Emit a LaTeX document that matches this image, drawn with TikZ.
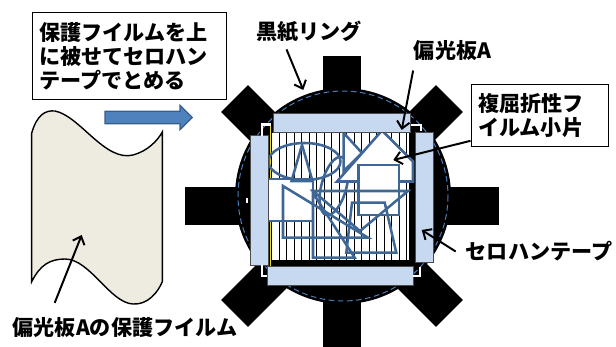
\documentclass[tikz,border=0pt]{standalone}
\usepackage{fontspec}
\usepackage{xcolor}
\usepackage{tikz}
\usetikzlibrary{arrows.meta,positioning}
\newfontfamily\jpfont{Noto Sans CJK JP}
\definecolor{filmbeige}{HTML}{EEECE1}
\definecolor{tapeblue}{HTML}{C6D9F1}
\definecolor{pieceblue}{HTML}{3F6796}
\definecolor{ringdash}{HTML}{4A7EBB}
\definecolor{arrowblue}{HTML}{4F81BD}
\definecolor{arrowedge}{HTML}{385D8A}

\tikzset{
  lbl/.style={font=\jpfont\bfseries\fontsize{15}{17}\selectfont, inner sep=0pt},
  notebox/.style={lbl, draw, fill=white, line width=0.8pt, align=left, inner xsep=5pt},
  pointer/.style={line width=1.4pt, -{Straight Barb[length=5pt,width=9pt]}},
  piece/.style={draw=pieceblue, line width=1.8pt},
  tape/.style={fill=tapeblue, draw=black!70, line width=0.4pt},
  cornermark/.style={draw=black!55, double=white, double distance=1.5pt, line width=0.3pt}
}

\begin{document}
\begin{tikzpicture}[x=0.025cm, y=-0.025cm]
\useasboundingbox (0,0) rectangle (616,347);
\clip (0,0) rectangle (616,347);

% protective film and the blue arrow
\draw[fill=filmbeige, line width=1pt] (31.7,281.7) .. controls (40,265) and (50,259) .. (65,259)
  .. controls (90,259) and (110,303) .. (133,304) .. controls (148,305) and (158,292) .. (162.3,281.7)
  -- (162.3,132) .. controls (158,140) and (148,151) .. (133,155)
  .. controls (105,162) and (80,116) .. (55,111) .. controls (45,110) and (37,115) .. (31.7,133) -- cycle;
\draw[fill=arrowblue, draw=arrowedge, line width=0.8pt] (105,111.3) -- (180,111.3) -- (180,105.3)
  -- (192.3,117.5) -- (180,129.7) -- (180,123.7) -- (105,123.7) -- cycle;

% black paper ring
\foreach \ang/\len in {0/157,45/152,90/150,135/152}
  \fill[rotate around={\ang:(342,206)}] (342-\len,187) rectangle (342+\len,225);
\fill (343,196) circle [radius=108];
\draw[ringdash, line width=0.7pt, dash pattern=on 4pt off 2.5pt] (343,196) circle [radius=105];
\fill[white] (245.5,197.5) rectangle (248,202.5);

% polarizer A
\fill (266,130) rectangle (415.5,265);
\fill[white] (271.5,133) rectangle (408.5,260);
\foreach \i in {0,...,17}
  \draw[line width=0.6pt] (279.3+7.5*\i,133) -- (279.3+7.5*\i,260);
\draw[yellow!90!black, line width=0.8pt] (270.7,125) -- (270.7,266);

% film pieces
\draw[piece, fill=white] (268,179) rectangle (313,221);
\draw[piece] (304.5,161.5) ellipse [x radius=36, y radius=18.5];
\draw[piece] (302,145) -- (291.5,181) -- (312.5,181) -- cycle;
\draw[piece] (283,186) -- (283,237.7) -- (368,237.7) -- cycle;
\draw[piece, rotate around={-15:(334,186)}] (334,186) ellipse [x radius=12.5, y radius=30];
\draw[piece, fill=white] (343.7,133) -- (362,153) -- (343.7,171) -- cycle;
\draw[piece, fill=white] (337,181.5) -- (382,130.5) -- (413,161.5) -- (413,181.5) -- cycle;
\draw[piece, fill=white] (358.5,165) rectangle (399,215);
\draw[piece] (313,191) -- (408,191) -- (360,231) -- cycle;
\draw[piece] (313,193) -- (313,257.7) -- (354.7,257.7) -- cycle;
\draw[piece] (352,202.7) -- (384.7,202.7) -- (396.3,252.7) -- (346.3,252.7) -- cycle;

% cellophane tape
\draw[tape] (273,113) rectangle (410,132);
\draw[tape] (267,266.5) rectangle (413,285);
\draw[tape] (250,135) rectangle (268,265);
\draw[tape] (415,132) rectangle (433,262);
\draw[cornermark] (262,136) -- (262,124.5) -- (271,124.5);
\draw[cornermark] (411,125) -- (421,125) -- (421,131);
\draw[cornermark] (262,265) -- (262,276) -- (267,276);
\draw[cornermark] (420,266.5) -- (420,276) -- (413,276);

% labels
\node[notebox, text width=128pt, inner ysep=7pt] (note) at (129.2,56) {保護フイルムを上\\に被せてセロハン\\テープでとめる};
\node[notebox, text width=88pt, inner ysep=6.4pt] (filmbox) at (540,115.8) {複屈折性フ\\イルム小片};
\node[lbl] (ringlbl) at (309,32) {黒紙リング};
\node[lbl] (polAlbl) at (452.5,51) {偏光板A};
\node[lbl] (tapelbl) at (539,251.5) {セロハンテープ};
\node[lbl] (protlbl) at (125,328) {偏光板Aの保護フイルム};

\coordinate (ringtip) at (303.3,90);
\coordinate (polAtip) at (401.7,130);
\coordinate (filmtip) at (393.3,160);
\coordinate (tapetip) at (421.7,230);
\coordinate (prottip) at (81.7,235);

\draw[pointer] ([xshift=-16pt,yshift=-4.6pt]ringlbl.south) -- (ringtip);
\draw[pointer] ([xshift=-28pt,yshift=-6.5pt]polAlbl.south) -- (polAtip);
\draw[pointer] ([yshift=4.7pt]filmbox.south west) -- (filmtip);
\draw[pointer] ([xshift=-7pt]tapelbl.west) -- (tapetip);
\draw[pointer] ([xshift=-50pt,yshift=10.5pt]protlbl.north) -- (prottip);
\end{tikzpicture}
\end{document}
